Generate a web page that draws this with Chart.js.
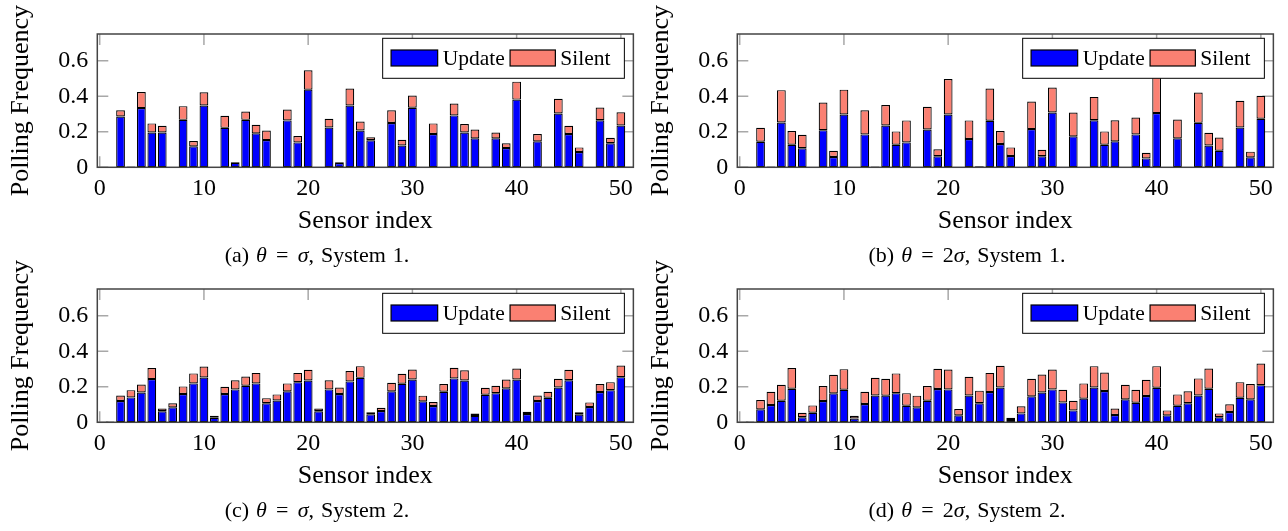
<!DOCTYPE html>
<html><head><meta charset="utf-8">
<script src="https://cdn.jsdelivr.net/npm/chart.js@4.4.0/dist/chart.umd.min.js"></script>
<style>
html,body{margin:0;padding:0;background:#fff;}
body{width:1288px;height:531px;position:relative;overflow:hidden;font-family:'Liberation Serif',serif;}
canvas{position:absolute;}
.cap{position:absolute;width:640px;text-align:center;font-size:22px;line-height:20px;color:#000;white-space:nowrap;word-spacing:1.5px;}
.cap i{font-style:italic;}
.eq{display:inline-block;margin:0 0.1em;}
</style></head><body>
<canvas id="ca" width="640" height="255" style="left:0;top:0"></canvas>
<canvas id="cb" width="640" height="255" style="left:640px;top:0"></canvas>
<canvas id="cc" width="640" height="255" style="left:0;top:255px"></canvas>
<canvas id="cd" width="640" height="255" style="left:640px;top:255px"></canvas>
<div class="cap" style="left:-3px;top:245px">(a) <i>θ</i> <span class="eq">=</span> <i>σ</i>, System 1.</div>
<div class="cap" style="left:647px;top:245px">(b) <i>θ</i> <span class="eq">=</span> 2<i>σ</i>, System 1.</div>
<div class="cap" style="left:-3px;top:500px">(c) <i>θ</i> <span class="eq">=</span> <i>σ</i>, System 2.</div>
<div class="cap" style="left:647px;top:500px">(d) <i>θ</i> <span class="eq">=</span> 2<i>σ</i>, System 2.</div>
<script>
const sensorIndex = [1,2,3,4,5,6,7,8,9,10,11,12,13,14,15,16,17,18,19,20,21,22,23,24,25,26,27,28,29,30,31,32,33,34,35,36,37,38,39,40,41,42,43,44,45,46,47,48,49,50];
const xTicks = [0,10,20,30,40,50];
const yTicks = [0,0.2,0.4,0.6];

const aUpdate = [0,0.286,0.005,0.333,0.196,0.196,0,0.267,0.118,0.348, 0,0.222,0.026,0.267,0.191,0.153,0,0.264,0.140,0.437, 0,0.224,0.024,0.348,0.207,0.152,0,0.249,0.123,0.335, 0,0.187,0,0.292,0.196,0.163,0,0.163,0.108,0.381, 0,0.146,0.003,0.303,0.187,0.086,0,0.265,0.135,0.235];
const aSilent = [0,0.035,0,0.091,0.051,0.038,0,0.077,0.030,0.074, 0,0.068,0.004,0.047,0.048,0.054,0,0.061,0.036,0.109, 0,0.049,0.004,0.095,0.051,0.017,0,0.072,0.032,0.069, 0,0.060,0,0.067,0.047,0.050,0,0.033,0.027,0.101, 0,0.041,0,0.082,0.047,0.026,0,0.071,0.031,0.075];

const bUpdate = [0,0.144,0.004,0.252,0.127,0.107,0,0.209,0.058,0.297, 0,0.185,0.004,0.235,0.127,0.140,0,0.213,0.062,0.297, 0,0.159,0.006,0.262,0.131,0.064,0,0.215,0.062,0.308, 0,0.174,0,0.265,0.127,0.146,0,0.185,0.050,0.305, 0,0.163,0,0.250,0.123,0.093,0,0.224,0.056,0.273];
const bSilent = [0,0.078,0,0.182,0.077,0.076,0,0.155,0.035,0.140, 0,0.136,0,0.115,0.075,0.124,0,0.127,0.039,0.200, 0,0.105,0,0.181,0.073,0.048,0,0.155,0.037,0.141, 0,0.134,0,0.131,0.075,0.119,0,0.095,0.032,0.225, 0,0.106,0,0.171,0.071,0.075,0,0.150,0.032,0.129];

const cUpdate = [0.004,0.120,0.140,0.168,0.243,0.062,0.084,0.159,0.219,0.252, 0.026,0.159,0.185,0.206,0.219,0.107,0.123,0.174,0.226,0.235, 0.062,0.185,0.159,0.230,0.250,0.045,0.064,0.174,0.217,0.241, 0.118,0.092,0.172,0.247,0.235,0.036,0.155,0.164,0.191,0.241, 0.047,0.120,0.138,0.196,0.237,0.043,0.086,0.170,0.181,0.254];
const cSilent = [0,0.031,0.041,0.045,0.062,0.016,0.023,0.043,0.056,0.062, 0.011,0.041,0.051,0.052,0.059,0.029,0.034,0.045,0.052,0.060, 0.016,0.051,0.037,0.058,0.066,0.011,0.018,0.048,0.056,0.056, 0.032,0.022,0.043,0.060,0.058,0.013,0.039,0.042,0.050,0.062, 0.013,0.031,0.034,0.049,0.058,0.013,0.026,0.045,0.045,0.066];

const dUpdate = [0.004,0.073,0.097,0.121,0.189,0.028,0.054,0.120,0.163,0.183, 0.021,0.103,0.151,0.150,0.164,0.093,0.084,0.121,0.187,0.185, 0.039,0.151,0.107,0.170,0.196,0.013,0.050,0.146,0.168,0.185, 0.112,0.067,0.133,0.196,0.176,0.041,0.129,0.110,0.148,0.194, 0.039,0.093,0.107,0.151,0.189,0.028,0.058,0.138,0.129,0.209];
const dSilent = [0,0.052,0.075,0.090,0.116,0.026,0.041,0.084,0.104,0.116, 0.016,0.069,0.099,0.095,0.111,0.071,0.066,0.083,0.114,0.112, 0.036,0.105,0.071,0.108,0.122,0.013,0.040,0.099,0.101,0.112, 0.071,0.054,0.086,0.120,0.104,0.036,0.082,0.073,0.091,0.122, 0.028,0.064,0.067,0.096,0.114,0.022,0.043,0.088,0.086,0.122];

const SERIF = "'Liberation Serif', 'DejaVu Serif', serif";
const UPDATE_COLOR = '#0000ff';
const SILENT_COLOR = '#fa8072';

const framePlugin = {
  id: 'pgfFrame',
  beforeDatasetsDraw(chart) {
    const {ctx, chartArea: a, scales: {x, y}} = chart;
    ctx.save();
    ctx.strokeStyle = '#a8a8a8';
    ctx.lineWidth = 1.5;
    ctx.beginPath();
    xTicks.forEach(v => {
      const px = x.getPixelForValue(v);
      ctx.moveTo(px, a.top); ctx.lineTo(px, a.top + 11);
      ctx.moveTo(px, a.bottom); ctx.lineTo(px, a.bottom - 11);
    });
    yTicks.forEach(v => {
      const py = y.getPixelForValue(v);
      ctx.moveTo(a.left, py); ctx.lineTo(a.left + 11, py);
      ctx.moveTo(a.right, py); ctx.lineTo(a.right - 11, py);
    });
    ctx.stroke();
    ctx.restore();
  },
  afterDatasetsDraw(chart) {
    const {ctx, chartArea: a} = chart;
    ctx.save();
    ctx.strokeStyle = '#444';
    ctx.lineWidth = 1.5;
    ctx.strokeRect(a.left, a.top, a.right - a.left, a.bottom - a.top);
    // legend box
    const bw = 241.7, bh = 40;
    const bx = a.right - 9 - bw, by = a.top + 4.3;
    ctx.fillStyle = '#fff';
    ctx.fillRect(bx, by, bw, bh);
    ctx.strokeStyle = '#000';
    ctx.lineWidth = 1;
    ctx.strokeRect(bx, by, bw, bh);
    const ds = chart.data.datasets;
    const sw = [[bx + 8.4, 46.6, bx + 60], [bx + 127.4, 45.3, bx + 177.7]];
    ds.forEach((d, i) => {
      ctx.fillStyle = d.backgroundColor;
      ctx.fillRect(sw[i][0], by + 11.7, sw[i][1], 16);
      ctx.strokeStyle = '#000';
      ctx.lineWidth = 1.2;
      ctx.strokeRect(sw[i][0], by + 11.7, sw[i][1], 16);
      ctx.fillStyle = '#000';
      ctx.font = "21.5px " + SERIF;
      ctx.textBaseline = 'alphabetic';
      ctx.textAlign = 'left';
      ctx.fillText(d.label, sw[i][2], by + 26.7);
    });
    ctx.restore();
  }
};

function makeChart(id, upd, sil) {
  const mk = (arr) => sensorIndex.map((s, i) => ({x: s, y: arr[i]}));
  const common = {borderColor: '#000', borderWidth: 1.2, borderSkipped: false, barPercentage: 0.84, categoryPercentage: 1};
  new Chart(document.getElementById(id), {
    type: 'bar',
    data: {datasets: [
      Object.assign({label: 'Update', data: mk(upd), backgroundColor: UPDATE_COLOR}, common),
      Object.assign({label: 'Silent', data: mk(sil), backgroundColor: SILENT_COLOR}, common)
    ]},
    options: {
      responsive: false, animation: false, devicePixelRatio: 1,
      layout: {padding: {top: 34, right: 6, left: 0, bottom: 0}},
      plugins: {legend: {display: false}, tooltip: {enabled: false}},
      scales: {
        x: {
          type: 'linear', stacked: true, min: -0.23, max: 51.2, offset: false,
          afterBuildTicks: s => { s.ticks = xTicks.map(v => ({value: v})); },
          afterFit: s => { s.height = 87.7; },
          grid: {display: false, drawTicks: false}, border: {display: false},
          ticks: {font: {family: SERIF, size: 24}, color: '#000', padding: 7, maxRotation: 0, autoSkip: false, callback: v => String(v)},
          title: {display: true, text: 'Sensor index', font: {family: SERIF, size: 26}, color: '#000', padding: {top: 0, bottom: 18.5}}
        },
        y: {
          stacked: true, min: 0, max: 0.75,
          afterBuildTicks: s => { s.ticks = yTicks.map(v => ({value: v})); },
          afterFit: s => { s.width = 97.3; },
          grid: {display: false, drawTicks: false}, border: {display: false},
          ticks: {font: {family: SERIF, size: 24}, color: '#000', padding: 9, callback: v => String(v)},
          title: {display: true, text: 'Polling Frequency', font: {family: SERIF, size: 26}, color: '#000', padding: {top: 5.5, bottom: 0}}
        }
      }
    },
    plugins: [framePlugin]
  });
}

makeChart('ca', aUpdate, aSilent);
makeChart('cb', bUpdate, bSilent);
makeChart('cc', cUpdate, cSilent);
makeChart('cd', dUpdate, dSilent);
</script>
</body></html>
